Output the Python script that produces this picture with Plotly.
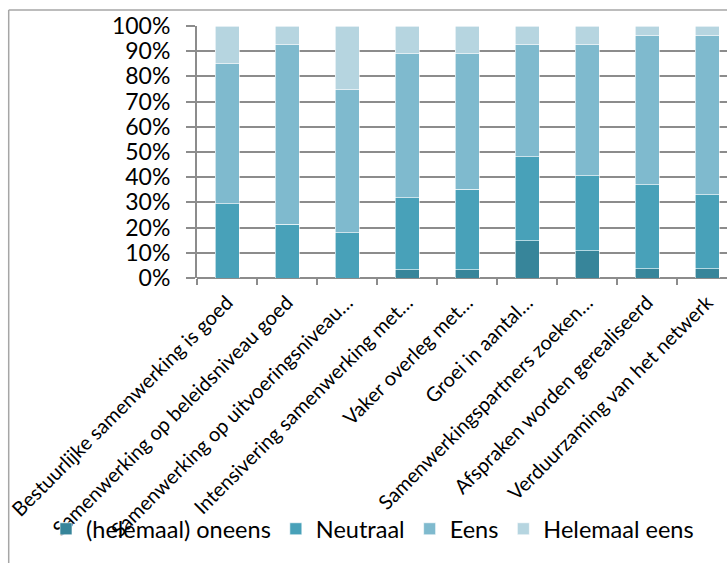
import plotly.graph_objects as go

categories = [
    "Bestuurlijke samenwerking is goed",
    "Samenwerking op beleidsniveau goed",
    "Samenwerking op uitvoeringsniveau…",
    "Intensivering samenwerking met…",
    "Vaker overleg met…",
    "Groei in aantal…",
    "Samenwerkingspartners zoeken…",
    "Afspraken worden gerealiseerd",
    "Verduurzaming van het netwerk",
]
series_names = ["(helemaal) oneens", "Neutraal", "Eens", "Helemaal eens"]
oneens = [0.0, 0.0, 0.0, 3.2, 3.2, 14.8, 10.9, 3.6, 3.6]
neutraal = [29.4, 21.3, 17.9, 28.6, 32.0, 33.3, 29.6, 33.4, 29.4]
eens = [55.6, 71.3, 56.8, 57.2, 53.8, 44.4, 52.0, 59.2, 63.2]
helemaal_eens = [15.0, 7.4, 25.3, 11.0, 11.0, 7.5, 7.5, 3.8, 3.8]
colors = ["#37859a", "#48a1b9", "#7fbace", "#b6d5e0"]

FONT = "Lato, 'Open Sans', sans-serif"

fig = go.Figure()
for name, vals, col in zip(series_names, [oneens, neutraal, eens, helemaal_eens], colors):
    fig.add_trace(go.Bar(
        x=categories, y=[v / 100 for v in vals], name=name,
        marker=dict(color=col, line=dict(color="white", width=0.6)),
    ))

# plot-area geometry (pixels)
L, R, T, B = 197, 727, 26, 278
H = B - T
W = R - L

fig.update_layout(
    width=727, height=563,
    barmode="stack", bargap=0.6,
    margin=dict(l=L, r=0, t=T, b=563 - B, pad=0, autoexpand=False),
    paper_bgcolor="white", plot_bgcolor="white",
    font=dict(family=FONT, color="black", size=18),
    showlegend=True,
    legend=dict(
        orientation="h", traceorder="normal",
        x=(46 - L) / W, xanchor="left",
        y=(B - 529) / H, yanchor="middle",
        font=dict(size=23.5, family=FONT), itemwidth=30,
        bgcolor="rgba(0,0,0,0)",
    ),
    xaxis=dict(
        type="category", range=[-0.5, 8.5 - 10 / 60],
        tickangle=-45, tickfont=dict(size=20, family=FONT), ticklabelstandoff=8,
        showgrid=False, showline=False,
        ticks="outside", tickson="boundaries", ticklen=6,
        tickcolor="#8c8c8c", tickwidth=2,
    ),
    yaxis=dict(
        range=[0, 1], dtick=0.1, tickformat=".0%",
        tickfont=dict(size=23, family=FONT), ticklabelstandoff=11,
        showgrid=True, gridcolor="#8c8c8c", gridwidth=2,
        showline=True, linecolor="#8c8c8c", linewidth=2,
        ticks="outside", ticklen=9, tickcolor="#8c8c8c", tickwidth=2,
        zeroline=True, zerolinecolor="#8c8c8c", zerolinewidth=2,
    ),
    shapes=[
        dict(type="line", xref="paper", yref="paper",
             x0=(8.7 - L) / W, x1=1.05, y0=(B - 10) / H, y1=(B - 10) / H,
             line=dict(color="#a6a6a6", width=1.5)),
        dict(type="line", xref="paper", yref="paper",
             x0=(8.7 - L) / W, x1=(8.7 - L) / W, y0=(B - 10) / H, y1=(B - 570) / H,
             line=dict(color="#a6a6a6", width=1.5)),
    ],
)

fig.write_html(
    "out.html",
    config={"displayModeBar": False},
    post_script="document.body.style.margin='0';document.body.style.overflow='hidden';",
)
